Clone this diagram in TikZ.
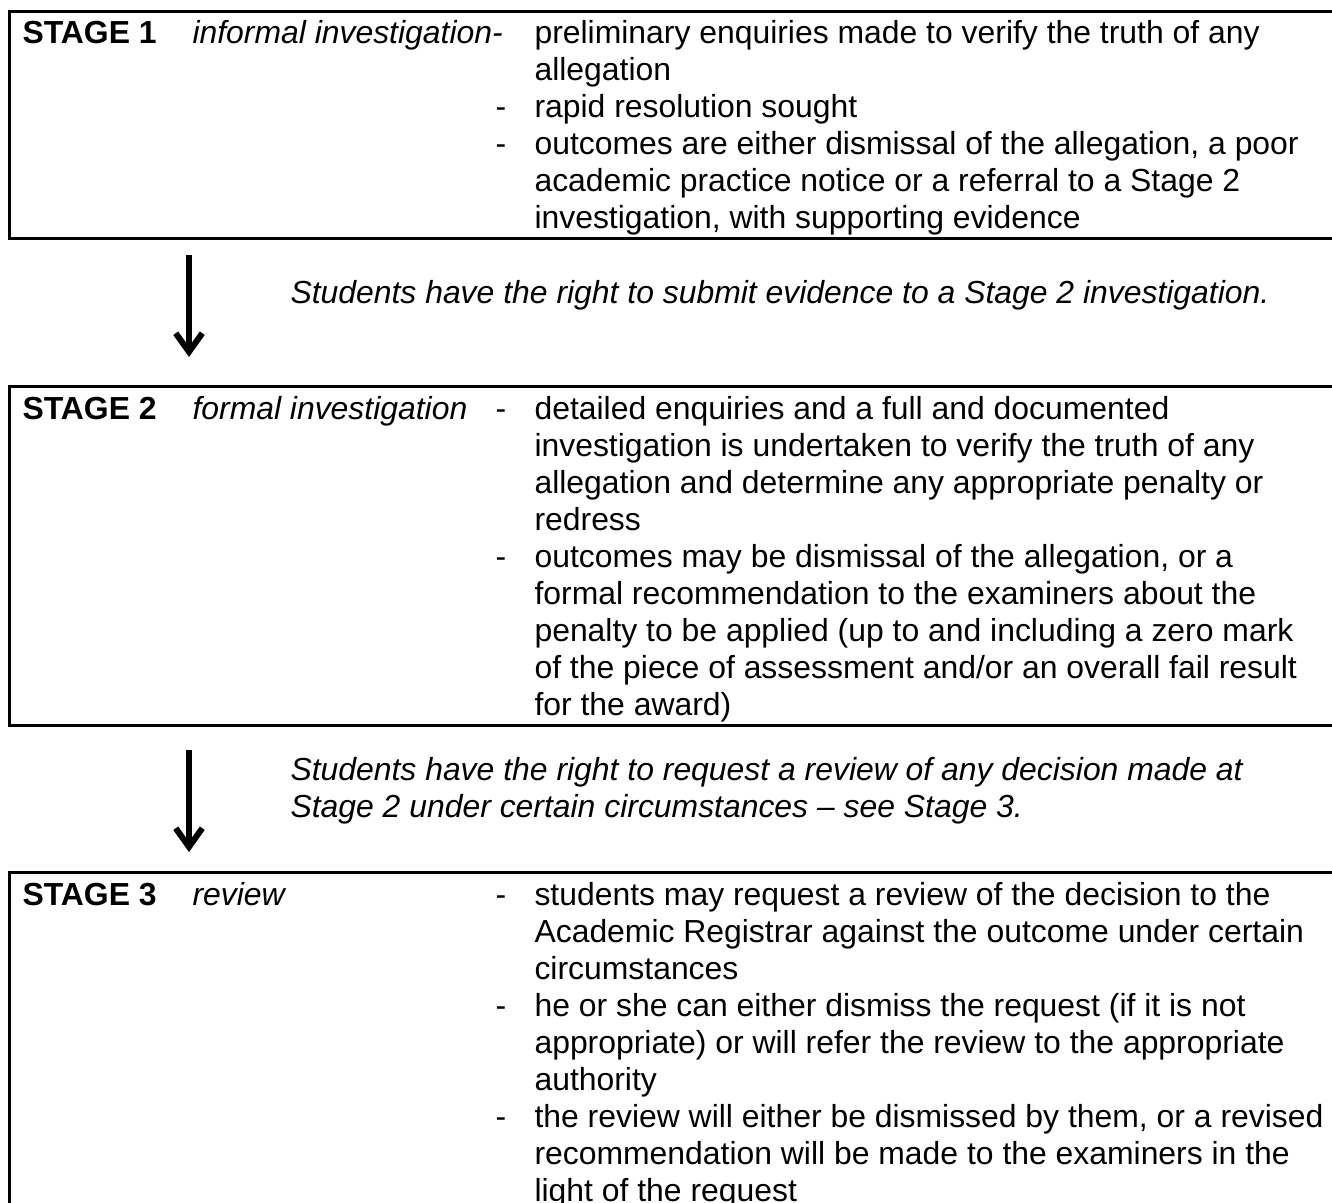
\documentclass[tikz,border=0pt]{standalone}
\usepackage{fontspec}
\setmainfont{Liberation Sans}
\usetikzlibrary{arrows.meta, calc}

\tikzset{
  stagebox/.style={draw, line width=1.13pt, rectangle, anchor=north west, inner sep=0pt, minimum width=530pt},
  cell/.style={anchor=north west, inner sep=0pt, align=left, font=\fontsize{12}{13.92}\selectfont},
  notecell/.style={cell, font=\fontsize{12}{13.92}\selectfont\itshape},
  flow/.style={line width=2.26pt, -{Straight Barb[length=7pt, width=10pt]}}
}

\begin{document}
\begin{tikzpicture}[x=0.3762pt, y=-0.3762pt]
    \useasboundingbox (0,0) rectangle (1332,1202);

    % Boxes
    \node[stagebox, minimum height=85.4pt] (box1) at (8,10) {};
    \node[stagebox, minimum height=127.5pt] (box2) at (8,385) {};
    \node[stagebox, minimum height=152pt] (box3) at (8,871) {};

    % Stage 1
    \node[cell] (s1name) at (22,17) {\strut\textbf{STAGE 1}};
    \node[cell] (s1kind) at (192,17) {\strut\textit{informal investigation-}};
    \node[cell] (s1dashA) at (495,91) {\strut-};
    \node[cell] (s1dashB) at (495,128) {\strut-};
    \node[cell] (s1text) at (534,17) {\strut preliminary enquiries made to verify the truth of any\\
      allegation\\
      rapid resolution sought\\
      outcomes are either dismissal of the allegation, a poor\\
      academic practice notice or a referral to a Stage 2\\
      investigation, with supporting evidence};

    \node[notecell] (note1) at (290,277) {\strut Students have the right to submit evidence to a Stage 2 investigation.};

    % Stage 2
    \node[cell] (s2name) at (22,393) {\strut\textbf{STAGE 2}};
    \node[cell] (s2kind) at (192,393) {\strut\textit{formal investigation}};
    \node[cell] (s2dashA) at (495,393) {\strut-};
    \node[cell] (s2dashB) at (495,541) {\strut-};
    \node[cell] (s2text) at (534,393) {\strut detailed enquiries and a full and documented\\
      investigation is undertaken to verify the truth of any\\
      allegation and determine any appropriate penalty or\\
      redress\\
      outcomes may be dismissal of the allegation, or a\\
      formal recommendation to the examiners about the\\
      penalty to be applied (up to and including a zero mark\\
      of the piece of assessment and/or an overall fail result\\
      for the award)};

    \node[notecell] (note2) at (290,754) {\strut Students have the right to request a review of any decision made at\\
      Stage 2 under certain circumstances – see Stage 3.};

    % Stage 3
    \node[cell] (s3name) at (22,879) {\strut\textbf{STAGE 3}};
    \node[cell] (s3kind) at (192,879) {\strut\textit{review}};
    \node[cell] (s3dashA) at (495,879) {\strut-};
    \node[cell] (s3dashB) at (495,990) {\strut-};
    \node[cell] (s3dashC) at (495,1101) {\strut-};
    \node[cell] (s3text) at (534,879) {\strut students may request a review of the decision to the\\
      Academic Registrar against the outcome under certain\\
      circumstances\\
      he or she can either dismiss the request (if it is not\\
      appropriate) or will refer the review to the appropriate\\
      authority\\
      the review will either be dismissed by them, or a revised\\
      recommendation will be made to the examiners in the\\
      light of the request};

    % Arrows
    \draw[flow] ($(box1.south west)+(181,15)$) -- ($(box2.north west)+(181,-28)$);
    \draw[flow] ($(box2.south west)+(181,23)$) -- ($(box3.north west)+(181,-19)$);
\end{tikzpicture}
\end{document}
